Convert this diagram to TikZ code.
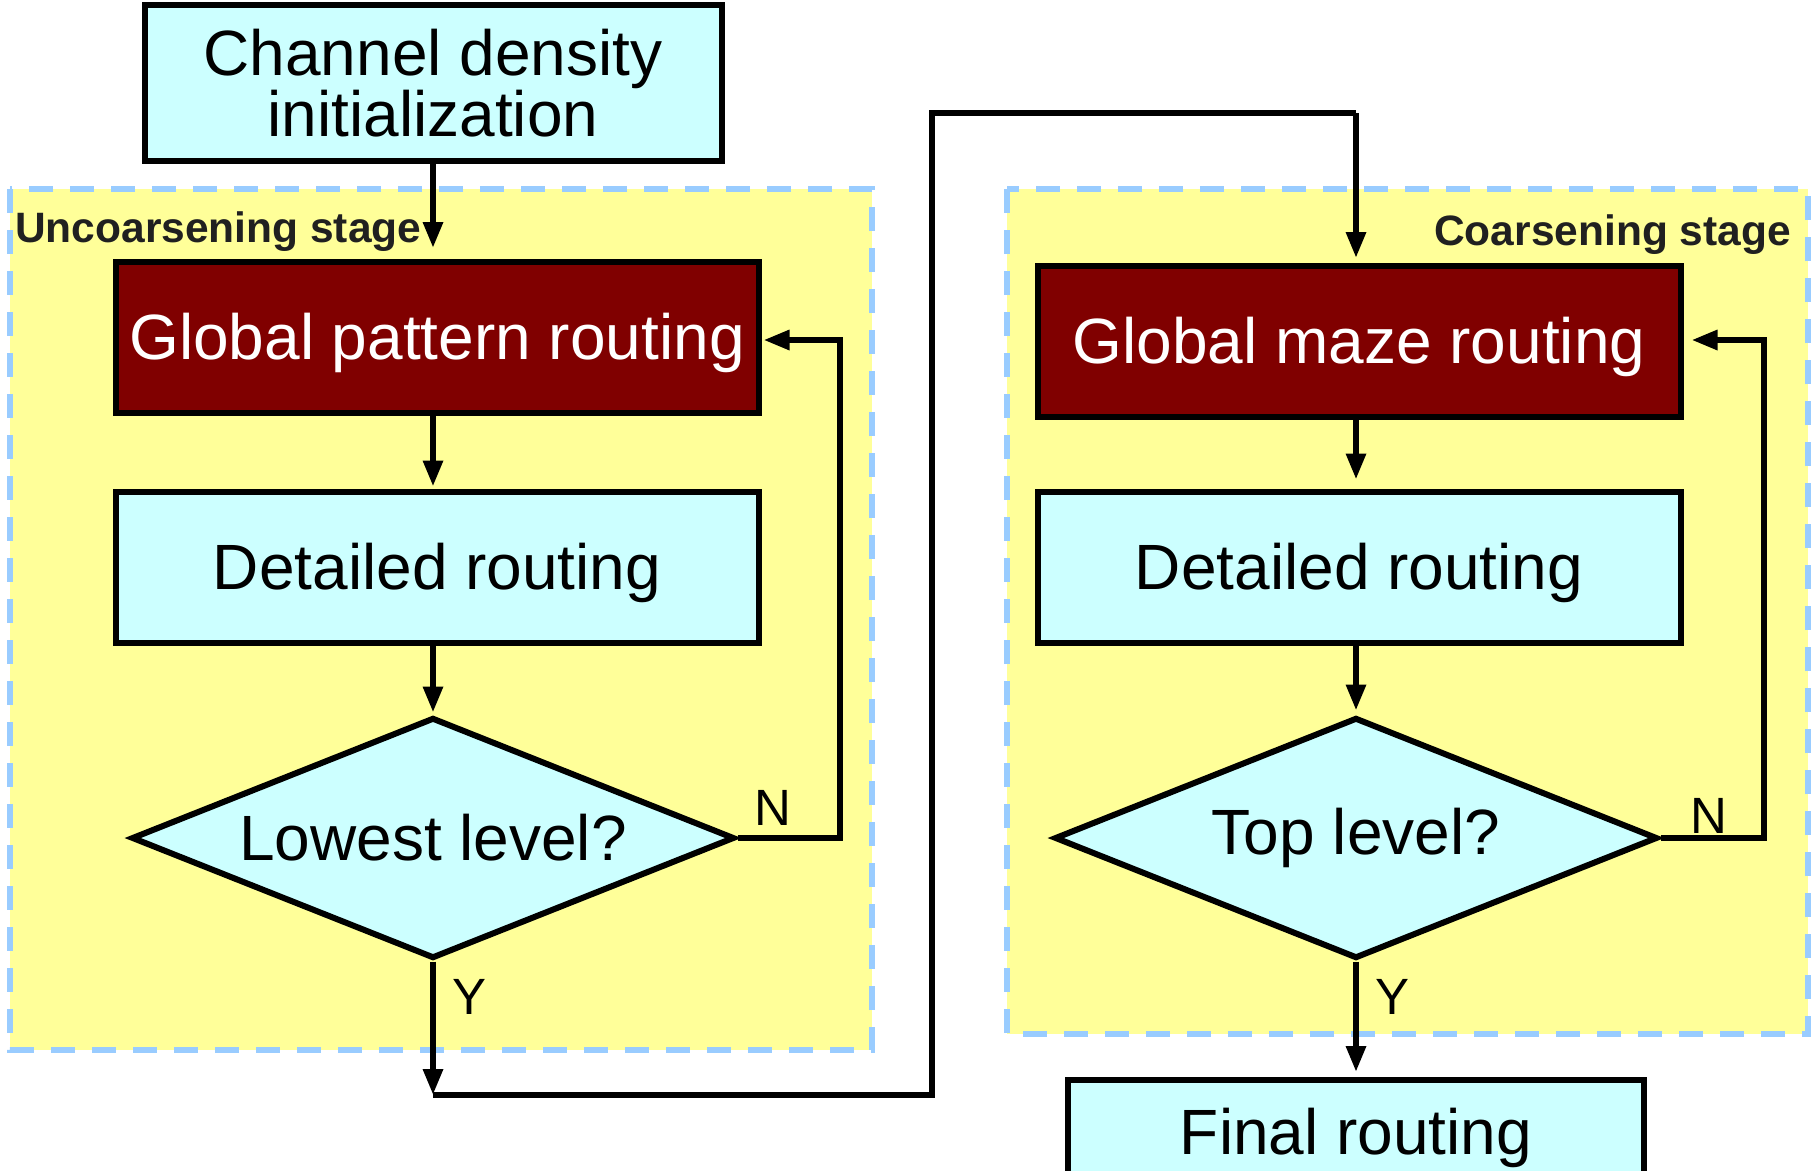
\documentclass[tikz,border=0pt]{standalone}
\usepackage{fontspec}
\setmainfont{Liberation Sans}
\usetikzlibrary{arrows.meta,shapes.geometric}
\definecolor{cyanfill}{HTML}{CCFFFF}
\definecolor{yellowfill}{HTML}{FFFF99}
\definecolor{dashblue}{HTML}{99CCFF}
\definecolor{darkred}{HTML}{800000}
\definecolor{labelgray}{HTML}{202020}
\tikzset{
  region/.style={fill=yellowfill, draw=dashblue, line width=5.5pt, dash pattern=on 24pt off 17pt},
  cyanbox/.style={draw=black, line width=6pt, fill=cyanfill, inner sep=0pt,
    minimum width=643pt, minimum height=151pt, align=center,
    text height=45pt, text depth=0pt,
    font=\fontsize{64}{61}\selectfont},
  redbox/.style={cyanbox, fill=darkred, text=white},
  decision/.style={diamond, draw=black, line width=6pt, fill=cyanfill, inner sep=0pt,
    minimum width=603pt, minimum height=241pt, shape aspect=2.5,
    font=\fontsize{64}{61}\selectfont},
  stagelabel/.style={font=\fontsize{42.5}{42.5}\selectfont\bfseries, text=labelgray, inner sep=0pt},
  yn/.style={font=\fontsize{51}{51}\selectfont, inner sep=0pt},
  conn/.style={line width=6pt, line join=miter},
  arr/.style={conn, -{Triangle[length=26pt,width=19pt]}}
}
\begin{document}
\begin{tikzpicture}[x=1pt,y=-1pt]
\useasboundingbox (0,0) rectangle (1820,1170);
\clip (0,0) rectangle (1820,1170);
% stage regions
\path[region] (10,189) rectangle (872,1050);
\path[region] (1007,189) rectangle (1808,1034);
\node[stagelabel, anchor=base west] (ulabel) at (15,242) {Uncoarsening stage};
\node[stagelabel, anchor=base east] (clabel) at (1791,245) {Coarsening stage};
% nodes
\node[cyanbox, minimum width=577pt, minimum height=156pt, text height=, text depth=] (init) at (433,83) {Channel density\\initialization};
\node[redbox] (gpr) at (437,337) {Global pattern routing};
\node[cyanbox] (dr1) at (437,567) {Detailed routing};
\node[decision] (dia1) at (433,838) {Lowest level?};
\node[redbox] (gmr) at (1359,341) {Global maze routing};
\node[cyanbox] (dr2) at (1359,567) {Detailed routing};
\node[decision] (dia2) at (1356,838) {Top level?};
\node[cyanbox, minimum width=576pt, minimum height=104pt] (final) at (1356,1132) {Final routing};
% connectors
\coordinate (a1) at (433,248);
\draw[arr] (init.south) -- (a1);
\draw[arr] (gpr.south -| dia1.north) -- ([yshift=2pt]dr1.north -| dia1.north);
\draw[arr] (dr1.south -| dia1.north) -- ([yshift=2pt]dia1.north);
\coordinate (n1a) at (840,838);
\coordinate (n1b) at (840,340);
\draw[arr] (dia1.east) -- (n1a) -- (n1b) -- ([xshift=2pt]gpr.east |- n1b);
\coordinate (y1a) at (433,1095);
\draw[arr] (dia1.south) -- (y1a);
\coordinate (y1b) at (932,1095);
\coordinate (y1c) at (932,113);
\coordinate (y1d) at (1356,113);
\coordinate (y1e) at (1356,258);
\draw[conn] (y1a) -- (y1b) -- (y1c) -- (y1d);
\draw[arr] (y1d) -- (y1e);
\draw[arr] (gmr.south -| dia2.north) -- ([yshift=9pt]dr2.north -| dia2.north);
\draw[arr] (dr2.south -| dia2.north) -- ([yshift=4pt]dia2.north);
\coordinate (n2a) at (1764,838);
\coordinate (n2b) at (1764,340);
\draw[arr] (dia2.east) -- (n2a) -- (n2b) -- ([xshift=8pt]gmr.east |- n2b);
\draw[arr] (dia2.south) -- ([yshift=5pt]final.north);
% labels
\node[yn] (nl1) at (773,808) {N};
\node[yn] (yl1) at (470,997) {Y};
\node[yn] (nl2) at (1709,816) {N};
\node[yn] (yl2) at (1392,997) {Y};
\end{tikzpicture}
\end{document}
